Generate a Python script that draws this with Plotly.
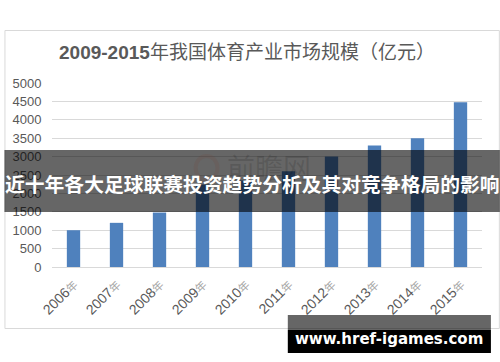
import plotly.graph_objects as go

years = ["2006", "2007", "2008", "2009", "2010", "2011", "2012", "2013", "2014", "2015"]
values = [1000, 1200, 1480, 2240, 2350, 2600, 3000, 3300, 3500, 4480]
y_ticks = [0, 500, 1000, 1500, 2000, 2500, 3000, 3500, 4000, 4500, 5000]
title_bold = "2009-2015"
title_rest = "年我国体育产业市场规模（亿元）"
banner_text = "近十年各大足球联赛投资趋势分析及其对竞争格局的影响"
watermark_text = "www.href-igames.com"

W, H = 500, 362
L, R, T, B = 48, 18, 83, 95
PW, PH = W - L - R, H - T - B

def px(x):
    return (x - L) / PW

def py(y):
    return (H - B - y) / PH

tick_labels = [f"{y}<span style='font-size:11px;color:#a6a6a6'>年</span>" for y in years]

fig = go.Figure(go.Bar(
    x=years, y=values, marker_color="#4f81bd", marker_line_width=0,
))

fig.update_layout(
    width=W, height=H, margin=dict(l=L, r=R, t=T, b=B),
    paper_bgcolor="white", plot_bgcolor="white",
    bargap=0.69, showlegend=False,
    font=dict(family="Liberation Sans, Noto Sans CJK SC", color="#595959"),
    xaxis=dict(type="category", tickmode="array", tickvals=years, ticktext=tick_labels,
               tickangle=-45, tickfont=dict(size=14, color="#595959"),
               showline=True, linecolor="#d9d9d9", linewidth=1, showgrid=False,
               ticks="outside", ticklen=3, tickcolor="rgba(0,0,0,0)"),
    yaxis=dict(range=[0, 5000], tickvals=y_ticks, showgrid=True, gridcolor="#d9d9d9",
               gridwidth=1, zeroline=False, tickfont=dict(size=13, color="#595959"),
               ticks="outside", ticklen=7, tickcolor="rgba(0,0,0,0)"),
)

shapes = [
    dict(type="rect", xref="paper", yref="paper", x0=px(0.5), x1=px(499.5), y0=py(328.5), y1=py(30.5),
         line=dict(color="#d9d9d9", width=1), fillcolor="rgba(0,0,0,0)", layer="below"),
    dict(type="rect", xref="paper", yref="paper", x0=px(0), x1=px(500), y0=py(212), y1=py(150),
         line=dict(width=0), fillcolor="rgba(0,0,0,0.6)", layer="above"),
    dict(type="rect", xref="paper", yref="paper", x0=px(286), x1=px(491), y0=py(330), y1=py(315),
         line=dict(width=0), fillcolor="rgba(0,0,0,0.6)", layer="above"),
    dict(type="rect", xref="paper", yref="paper", x0=px(286), x1=px(491), y0=py(353), y1=py(330),
         line=dict(width=0), fillcolor="black", layer="above"),
    dict(type="circle", xref="paper", yref="paper", x0=px(193), x1=px(215), y0=py(180), y1=py(156),
         line=dict(color="rgba(120,60,40,0.12)", width=4), fillcolor="rgba(0,0,0,0)", layer="above"),
]
fig.update_layout(shapes=shapes)

annotations = [
    dict(xref="paper", yref="paper", x=px(245), y=py(52), showarrow=False,
         text=f"<b>{title_bold}</b>{title_rest}", xanchor="center", yanchor="middle",
         font=dict(size=19, color="#595959", family="Liberation Sans, Noto Sans CJK SC")),
    dict(xref="paper", yref="paper", x=px(267), y=py(167), showarrow=False, text="前瞻网",
         xanchor="center", yanchor="middle",
         font=dict(size=28, color="rgba(0,0,0,0.12)", family="Noto Sans CJK SC")),
    dict(xref="paper", yref="paper", x=px(250), y=py(183), showarrow=False, text=f"<b>{banner_text}</b>",
         xanchor="center", yanchor="middle", borderpad=0,
         font=dict(size=19.8, color="white", family="Noto Sans CJK SC")),
    dict(xref="paper", yref="paper", x=px(388), y=py(339), showarrow=False, text=f"<b>{watermark_text}</b>",
         xanchor="center", yanchor="middle",
         font=dict(size=15, color="white", family="DejaVu Sans")),
]
fig.update_layout(annotations=annotations)

fig.write_html("out.html")
